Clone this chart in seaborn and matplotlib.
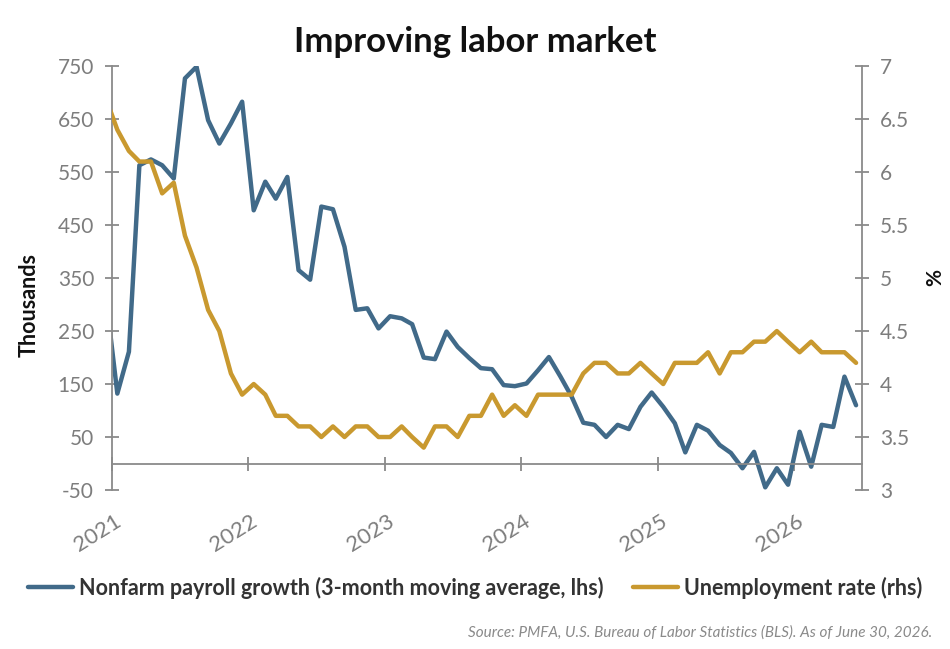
import matplotlib
matplotlib.use("Agg")
import matplotlib.pyplot as plt
import matplotlib.transforms as mtransforms
import seaborn as sns
import pandas as pd

# monthly values, Dec 2020 .. Jun 2026 (first point sits left of the axis and gets clipped)
months = pd.date_range("2020-12-01", periods=67, freq="MS") + pd.Timedelta(days=14)
payrolls = [318, 132, 211, 563, 574, 563, 538, 727, 749, 648, 604, 642, 683,
            478, 532, 500, 541, 365, 347, 485, 480, 409, 290, 293, 255,
            278, 274, 263, 200, 197, 249, 220, 199, 180, 178, 148, 146,
            151, 176, 201, 164, 126, 77, 73, 50, 73, 65, 107, 134,
            107, 76, 21, 73, 62, 35, 20, -9, 22, -45, -9, -40,
            60, -6, 73, 69, 164, 110]
unemployment = [6.7, 6.4, 6.2, 6.1, 6.1, 5.8, 5.9, 5.4, 5.1, 4.7, 4.5, 4.1, 3.9,
                4.0, 3.9, 3.7, 3.7, 3.6, 3.6, 3.5, 3.6, 3.5, 3.6, 3.6, 3.5,
                3.5, 3.6, 3.5, 3.4, 3.6, 3.6, 3.5, 3.7, 3.7, 3.9, 3.7, 3.8,
                3.7, 3.9, 3.9, 3.9, 3.9, 4.1, 4.2, 4.2, 4.1, 4.1, 4.2, 4.1,
                4.0, 4.2, 4.2, 4.2, 4.3, 4.1, 4.3, 4.3, 4.4, 4.4, 4.5, 4.4,
                4.3, 4.4, 4.3, 4.3, 4.3, 4.2]
left_ticks = [-50, 50, 150, 250, 350, 450, 550, 650, 750]
right_ticks = [3, 3.5, 4, 4.5, 5, 5.5, 6, 6.5, 7]
right_labels = ["3", "3.5", "4", "4.5", "5", "5.5", "6", "6.5", "7"]
years = ["2021", "2022", "2023", "2024", "2025", "2026"]

df = pd.DataFrame({"month": months, "payrolls": payrolls, "unemployment": unemployment})

BLUE = "#416a89"
GOLD = "#c9992f"
GREY = "#8a8a8a"
TICKTXT = "#7d7d7d"

sns.set_style("white")
plt.rcParams["font.family"] = ["Lato", "DejaVu Sans"]

fig = plt.figure(figsize=(9.5, 6.49), dpi=100)
ax = fig.add_axes([0.118, 0.245, 0.789, 0.653])
ax2 = ax.twinx()

sns.lineplot(data=df, x="month", y="payrolls", ax=ax, color=BLUE, linewidth=3.2, legend=False)
sns.lineplot(data=df, x="month", y="unemployment", ax=ax2, color=GOLD, linewidth=3.2, legend=False)

for a in (ax, ax2):
    for s in a.spines.values():
        s.set_visible(False)
ax.spines["left"].set_visible(True)
ax.spines["bottom"].set_visible(True)
ax.spines["bottom"].set_position(("data", 0))
ax2.spines["right"].set_visible(True)
for s in (ax.spines["left"], ax.spines["bottom"], ax2.spines["right"]):
    s.set_color(GREY)
    s.set_linewidth(1.3)

ax.tick_params(axis="y", direction="inout", length=10, width=1.3, color=GREY,
               labelsize=15, labelcolor=TICKTXT, pad=8, left=True)
ax.tick_params(axis="x", direction="inout", length=10, width=1.3, color=GREY,
               labelsize=16, labelcolor=TICKTXT, pad=29, bottom=True)
ax2.tick_params(axis="y", direction="inout", length=10, width=1.3, color=GREY,
                labelsize=15, labelcolor=TICKTXT, pad=8, right=True)

ax.set_xlim(pd.Timestamp("2021-01-01"), pd.Timestamp("2026-06-30"))
ax.set_ylim(-50, 750)
ax2.set_ylim(3, 7)
ax.set_yticks(left_ticks)
ax.set_yticklabels([str(t) for t in left_ticks])
ax2.set_yticks(right_ticks)
ax2.set_yticklabels(right_labels)

xt = [pd.Timestamp(f"{y}-01-01") for y in years]
ax.set_xticks(xt)
ax.set_xticklabels(years)
offset = mtransforms.ScaledTranslation(2 / 100, 0, fig.dpi_scale_trans)
for lab in ax.get_xticklabels():
    lab.set_rotation(32)
    lab.set_ha("right")
    lab.set_va("top")
    lab.set_rotation_mode("anchor")
    lab.set_transform(lab.get_transform() + offset)

ax.set_xlabel("")
ax.set_ylabel("")
ax2.set_ylabel("")

fig.text(0.5, 0.936, "Improving labor market", ha="center", va="center",
         fontsize=25, fontweight="bold", color="#111111")
fig.text(0.031, 0.53, "Thousands", rotation=90, ha="center", va="center",
         fontsize=15.5, fontweight="bold", color="#111111")
fig.text(0.984, 0.572, "%", rotation=90, ha="center", va="center",
         fontsize=15, fontweight="bold", color="#111111")

handles = ax.get_lines()[:1] + ax2.get_lines()[:1]
labels = ["Nonfarm payroll growth (3-month moving average, lhs)", "Unemployment rate (rhs)"]
fig.legend(handles, labels, loc="center", bbox_to_anchor=(0.5, 0.094), ncol=2,
           frameon=False, handlelength=2.1, handletextpad=0.25,
           columnspacing=1.4, labelcolor="#333333", prop={"weight": "bold", "size": 15.5})

fig.text(0.981, 0.026, "Source: PMFA, U.S. Bureau of Labor Statistics (BLS). As of June 30, 2026.",
         ha="right", va="center", fontsize=11, style="italic", color="#8a8a8a")

fig.savefig("out.png", dpi=100)
